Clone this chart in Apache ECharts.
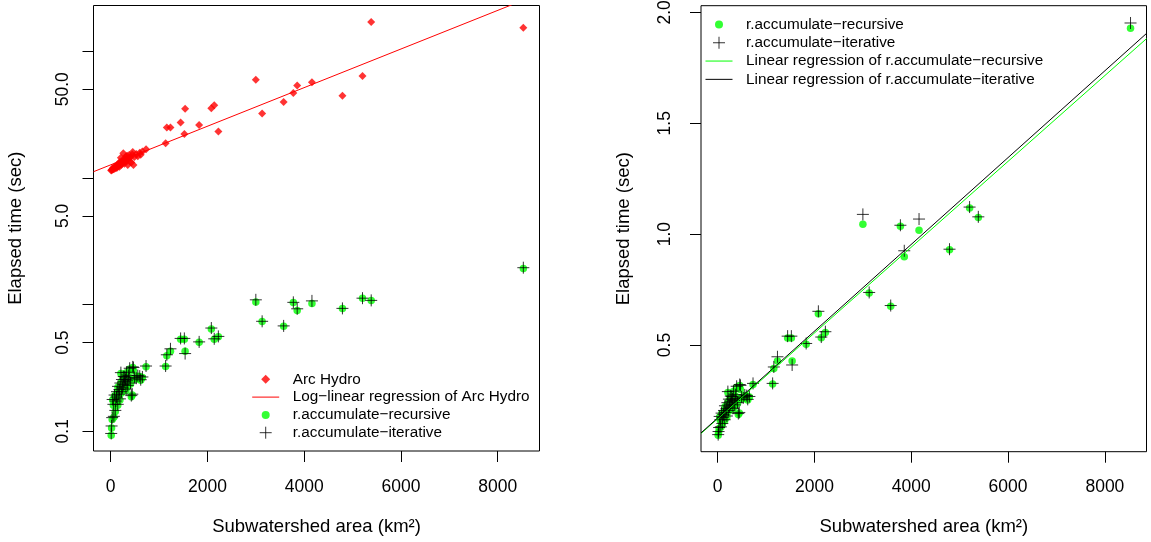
<!DOCTYPE html>
<html><head><meta charset="utf-8">
<script src="https://cdn.jsdelivr.net/npm/echarts@6/dist/echarts.min.js"></script>
<style>html,body{margin:0;padding:0;background:#fff}#c{width:1151px;height:542px}</style>
</head><body><div id="c"></div>
<script>
// Subwatershed data
const area = [8530,5385,5205,4790,4160,3855,3775,3575,3130,3000,2225,2140,2080,1828,1538,1522,1445,1235,1160,1135,730,655,600,
  10,18,30,40,65,95,55,80,105,120,130,145,150,165,180,190,200,210,222,232,245,260,270,282,292,305,315,325,338,352,365,380,392,410,426,446,455,470,490,528,560,620];
const arcHydro = [153,170,63.7,44.5,56.8,53.4,46.7,39.7,32.1,59.5,23.2,37.4,35.4,26.1,35.0,22.2,27.3,24.9,24.9,18.7,16.8,16.1,15.8,
  11.4,11.5,11.6,11.9,11.7,12.1,11.8,12.3,11.9,12.5,12.0,12.6,12.4,13.0,12.2,13.3,12.8,14.4,12.7,13.6,13.1,15.6,13.9,12.9,14.1,13.4,14.7,13.8,14.9,12.6,14.2,15.1,13.5,14.5,13.2,15.3,16.0,12.6,14.6,15.4,14.8,15.2];
const recursive = [1.928,1.075,1.118,0.930,1.018,0.898,1.036,0.675,0.735,1.045,0.557,0.533,0.641,0.504,0.428,0.532,0.532,0.428,0.394,0.324,0.322,0.266,0.270,
  0.093,0.106,0.124,0.176,0.129,0.143,0.160,0.190,0.170,0.182,0.200,0.160,0.222,0.192,0.210,0.176,0.236,0.286,0.200,0.250,0.215,0.230,0.265,0.240,0.267,0.250,0.210,0.290,0.245,0.225,0.270,0.255,0.310,0.236,0.187,0.193,0.318,0.300,0.262,0.258,0.272,0.252];
const iterative = [1.952,1.078,1.122,0.932,1.068,0.925,1.040,0.678,0.737,1.089,0.560,0.536,0.652,0.507,0.410,0.540,0.540,0.447,0.401,0.327,0.327,0.268,0.272,
  0.096,0.110,0.128,0.178,0.131,0.146,0.163,0.193,0.173,0.186,0.205,0.163,0.226,0.196,0.213,0.180,0.240,0.290,0.205,0.256,0.220,0.233,0.270,0.246,0.268,0.256,0.215,0.292,0.250,0.230,0.276,0.258,0.314,0.240,0.191,0.196,0.322,0.318,0.266,0.262,0.275,0.255];

const xTicks = [0, 2000, 4000, 6000, 8000];
const leftYTicks = [0.1, 0.5, 1, 5, 10, 50, 100];
const leftYLabels = [0.1, 0.5, 5, 50];
const rightYTicks = [0.5, 1, 1.5, 2];

const NAME_ARC = 'Arc Hydro';
const NAME_ARC_FIT = 'Log\u2212linear regression of Arc Hydro';
const NAME_REC = 'r.accumulate\u2212recursive';
const NAME_ITE = 'r.accumulate\u2212iterative';
const NAME_REC_FIT = 'Linear regression of r.accumulate\u2212recursive';
const NAME_ITE_FIT = 'Linear regression of r.accumulate\u2212iterative';

function linfit(xs, ys) {
  const n = xs.length;
  let mx = 0, my = 0;
  for (let i = 0; i < n; i++) { mx += xs[i]; my += ys[i]; }
  mx /= n; my /= n;
  let sxx = 0, sxy = 0;
  for (let i = 0; i < n; i++) { sxx += (xs[i]-mx)*(xs[i]-mx); sxy += (xs[i]-mx)*(ys[i]-my); }
  const b = sxy / sxx;
  return { a: my - b*mx, b: b };
}

const FONT = "'Liberation Sans', Arial, Helvetica, sans-serif";
const RED = '#ff0000', GREEN = '#00ff00', BLACK = '#000000';

const L = { xMin: -356, xMax: 8864, yMin: 0.0698, yMax: 229 };
const R = { xMin: -345, xMax: 8860, yMin: 0.019, yMax: 2.03 };

const arcFit = linfit(area, arcHydro.map(v => Math.log10(v)));
const recFit = linfit(area, recursive);
const iteFit = linfit(area, iterative);

const pts = (ys) => area.map((x, i) => [x, ys[i]]);
const PLUS = 'path://M6,0V12M0,6H12';

function xAxisCfg(grid, rng, margin) {
  return {
    type: 'value', gridIndex: grid, min: rng.xMin, max: rng.xMax,
    splitLine: { show: false }, axisLine: { show: false, onZero: false },
    axisTick: { show: true, inside: false, length: 11, customValues: xTicks, lineStyle: { color: '#000', width: 1 } },
    axisLabel: { show: true, customValues: xTicks, margin: margin, fontSize: 17.5, fontFamily: FONT, color: '#000',
      formatter: v => String(Math.round(v)) },
    name: 'Subwatershed area (km\u00b2)', nameLocation: 'middle', nameGap: 66,
    nameTextStyle: { fontSize: 18.5, fontFamily: FONT, color: '#000' }
  };
}

const option = {
  animation: false,
  backgroundColor: '#fff',
  textStyle: { fontFamily: FONT },
  grid: [
    { left: 93.5, top: 5.5, width: 446, height: 445.5, show: true, borderColor: '#000', borderWidth: 1, backgroundColor: 'transparent', containLabel: false, outerBoundsMode: 'none' },
    { left: 701, top: 5.7, width: 445.5, height: 446, show: true, borderColor: '#000', borderWidth: 1, backgroundColor: 'transparent', containLabel: false, outerBoundsMode: 'none' }
  ],
  xAxis: [ xAxisCfg(0, L, 27), xAxisCfg(1, R, 26.5) ],
  yAxis: [
    {
      type: 'log', logBase: 10, gridIndex: 0, min: L.yMin, max: L.yMax,
      splitLine: { show: false }, axisLine: { show: false, onZero: false },
      axisTick: { show: true, inside: false, length: 11, customValues: leftYTicks, lineStyle: { color: '#000', width: 1 } },
      axisLabel: { show: true, customValues: leftYLabels, rotate: 90, margin: 21, fontSize: 17.5, fontFamily: FONT, color: '#000',
        formatter: v => Number(v).toFixed(1) },
      name: 'Elapsed time (sec)', nameLocation: 'middle', nameGap: 68, nameRotate: 90,
      nameTextStyle: { fontSize: 18.5, fontFamily: FONT, color: '#000' }
    },
    {
      type: 'value', gridIndex: 1, min: R.yMin, max: R.yMax,
      splitLine: { show: false }, axisLine: { show: false, onZero: false },
      axisTick: { show: true, inside: false, length: 11, customValues: rightYTicks, lineStyle: { color: '#000', width: 1 } },
      axisLabel: { show: true, customValues: rightYTicks, rotate: 90, margin: 27, fontSize: 17.5, fontFamily: FONT, color: '#000',
        formatter: v => Number(v).toFixed(1) },
      name: 'Elapsed time (sec)', nameLocation: 'middle', nameGap: 68, nameRotate: 90,
      nameTextStyle: { fontSize: 18.5, fontFamily: FONT, color: '#000' }
    }
  ],
  legend: [
    {
      left: 251.7, top: 370.4, orient: 'vertical', padding: 0, itemGap: 0, itemWidth: 27, itemHeight: 12,
      selectedMode: false,
      textStyle: { fontSize: 15.3, fontFamily: FONT, color: '#000', lineHeight: 17.8, padding: [0, 0, 0, 8.6] },
      data: [
        { name: NAME_ARC, icon: 'path://M13.5,1.5L18,6L13.5,10.5L9,6Z M0,0 M27,12', itemStyle: { color: RED, borderWidth: 0 } },
        { name: NAME_ARC_FIT, icon: 'path://M0,5.5H27V6.5H0Z M0,0 M27,12', itemStyle: { color: RED, borderWidth: 0 } },
        { name: NAME_REC, icon: 'path://M9.5,6A4,4 0 1,1 17.5,6A4,4 0 1,1 9.5,6Z M0,0 M27,12', itemStyle: { color: GREEN, borderWidth: 0 } },
        { name: NAME_ITE, icon: 'path://M13.5,0V12M7.5,6H19.5 M0,0 M27,12', itemStyle: { color: 'rgba(0,0,0,0)', borderColor: BLACK, borderWidth: 1 } }
      ]
    },
    {
      left: 705, top: 15.3, orient: 'vertical', padding: 0, itemGap: 0, itemWidth: 27, itemHeight: 12,
      selectedMode: false,
      textStyle: { fontSize: 15.3, fontFamily: FONT, color: '#000', lineHeight: 18.3, padding: [0, 0, 0, 8.6] },
      data: [
        { name: NAME_REC, icon: 'path://M9.5,6A4,4 0 1,1 17.5,6A4,4 0 1,1 9.5,6Z M0,0 M27,12', itemStyle: { color: GREEN, borderWidth: 0 } },
        { name: NAME_ITE, icon: 'path://M13.5,0V12M7.5,6H19.5 M0,0 M27,12', itemStyle: { color: 'rgba(0,0,0,0)', borderColor: BLACK, borderWidth: 1 } },
        { name: NAME_REC_FIT, icon: 'path://M0,5.5H27V6.5H0Z M0,0 M27,12', itemStyle: { color: GREEN, borderWidth: 0 } },
        { name: NAME_ITE_FIT, icon: 'path://M0,5.5H27V6.5H0Z M0,0 M27,12', itemStyle: { color: BLACK, borderWidth: 0 } }
      ]
    }
  ],
  series: [
    { type: 'scatter', name: NAME_ARC, xAxisIndex: 0, yAxisIndex: 0, data: pts(arcHydro),
      symbol: 'diamond', symbolSize: 8, itemStyle: { color: RED }, emphasis: { disabled: true }, silent: true },
    { type: 'line', name: NAME_ARC_FIT, xAxisIndex: 0, yAxisIndex: 0,
      data: [L.xMin, L.xMax].map(x => [x, Math.pow(10, arcFit.a + arcFit.b * x)]),
      symbol: 'none', lineStyle: { color: RED, width: 1 }, itemStyle: { color: RED }, clip: true, emphasis: { disabled: true }, silent: true },
    { type: 'scatter', name: NAME_REC, xAxisIndex: 0, yAxisIndex: 0, data: pts(recursive),
      symbol: 'circle', symbolSize: 7.5, itemStyle: { color: GREEN }, emphasis: { disabled: true }, silent: true },
    { type: 'scatter', name: NAME_ITE, xAxisIndex: 0, yAxisIndex: 0, data: pts(iterative),
      symbol: PLUS, symbolSize: 12, itemStyle: { color: 'rgba(0,0,0,0)', borderColor: BLACK, borderWidth: 1 }, emphasis: { disabled: true }, silent: true },

    { type: 'scatter', name: NAME_REC, xAxisIndex: 1, yAxisIndex: 1, data: pts(recursive),
      symbol: 'circle', symbolSize: 7.5, itemStyle: { color: GREEN }, emphasis: { disabled: true }, silent: true },
    { type: 'scatter', name: NAME_ITE, xAxisIndex: 1, yAxisIndex: 1, data: pts(iterative),
      symbol: PLUS, symbolSize: 12, itemStyle: { color: 'rgba(0,0,0,0)', borderColor: BLACK, borderWidth: 1 }, emphasis: { disabled: true }, silent: true },
    { type: 'line', name: NAME_REC_FIT, xAxisIndex: 1, yAxisIndex: 1,
      data: [R.xMin, R.xMax].map(x => [x, recFit.a + recFit.b * x]),
      symbol: 'none', lineStyle: { color: GREEN, width: 1 }, itemStyle: { color: GREEN }, clip: true, emphasis: { disabled: true }, silent: true },
    { type: 'line', name: NAME_ITE_FIT, xAxisIndex: 1, yAxisIndex: 1,
      data: [R.xMin, R.xMax].map(x => [x, iteFit.a + iteFit.b * x]),
      symbol: 'none', lineStyle: { color: BLACK, width: 1 }, itemStyle: { color: BLACK }, clip: true, emphasis: { disabled: true }, silent: true }
  ]
};

const chart = echarts.init(document.getElementById('c'), null, { renderer: 'canvas' });
chart.setOption(option);
</script>
</body></html>
